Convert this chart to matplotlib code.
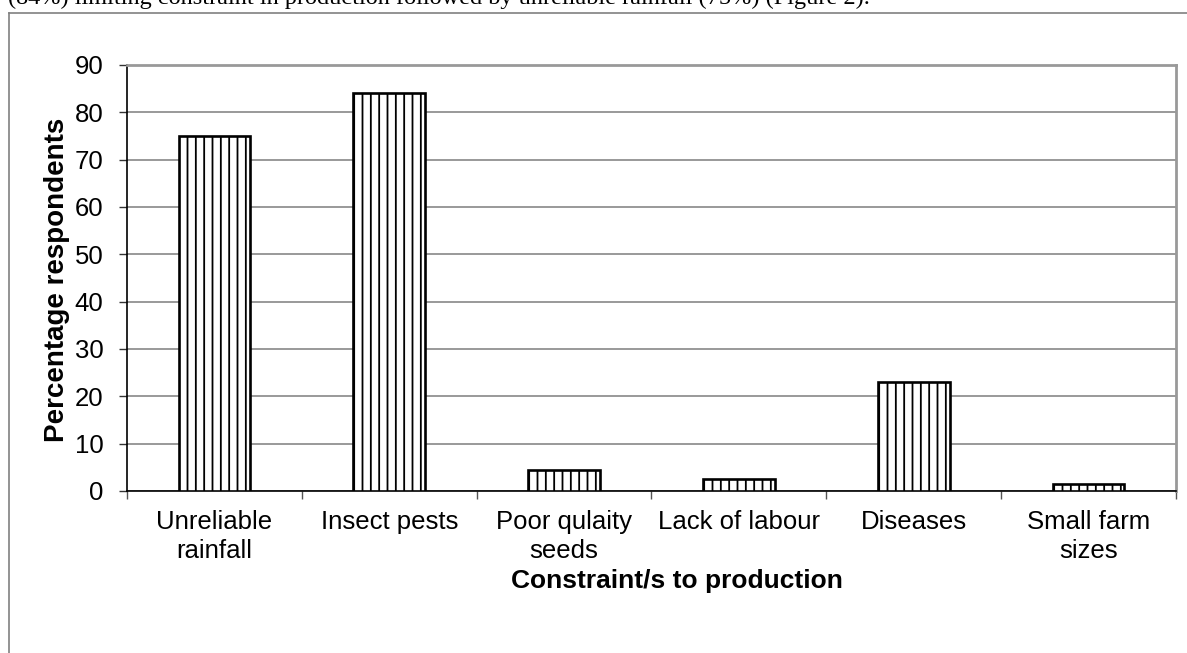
import matplotlib
matplotlib.use("Agg")
import matplotlib.pyplot as plt
from matplotlib.lines import Line2D
import numpy as np

categories = ["Unreliable\nrainfall", "Insect pests", "Poor qulaity\nseeds",
              "Lack of labour", "Diseases", "Small farm\nsizes"]
values = [75, 84, 4.5, 2.5, 23, 1.5]
yticks = [0, 10, 20, 30, 40, 50, 60, 70, 80, 90]

plt.rcParams['font.family'] = ['Liberation Sans', 'DejaVu Sans']
plt.rcParams['hatch.linewidth'] = 1.3
plt.rcParams['hatch.color'] = 'black'

W, H = 1187, 653
fig = plt.figure(figsize=(W / 100, H / 100), dpi=100)
ax = fig.add_axes([127 / W, 1 - 491 / H, (1176 - 127) / W, (491 - 65) / H])

x = np.arange(len(categories))
ax.bar(x, values, width=0.41, color='white', edgecolor='black',
       linewidth=1.9, hatch='||', zorder=3)

ax.set_xlim(-0.5, len(categories) - 0.5)
ax.set_ylim(0, 90)
ax.set_yticks(yticks)
ax.set_yticklabels([str(v) for v in yticks], fontsize=18.5)
ax.yaxis.grid(True, color='#888888', linewidth=1.2, zorder=0)
ax.set_axisbelow(True)

ax.set_xticks(x)
ax.set_xticklabels(categories, fontsize=18.5, linespacing=1.25)
ax.set_xticks(np.arange(-0.5, len(categories), 1.0), minor=True)
ax.tick_params(axis='x', which='major', length=0, pad=14)
ax.tick_params(axis='x', which='minor', length=6, width=1.0, color='#555555', direction='out')
ax.tick_params(axis='y', length=6, width=1.0, color='#333333', pad=11)

for s in ['top', 'right']:
    ax.spines[s].set_color('#999999')
    ax.spines[s].set_linewidth(2.0)
ax.spines['left'].set_color('black')
ax.spines['left'].set_linewidth(1.2)
ax.spines['bottom'].set_color('black')
ax.spines['bottom'].set_linewidth(1.2)

fig.text(57 / W, 1 - 280 / H, "Percentage respondents", rotation=90,
         ha='center', va='center', fontsize=20, fontweight='bold')
fig.text(677 / W, 1 - 581 / H, "Constraint/s to production",
         ha='center', va='center', fontsize=19, fontweight='bold')

# outer chart frame
fig.add_artist(Line2D([8.5 / W, 8.5 / W], [0, 1 - 13 / H], color='#808080',
                      linewidth=1.2, transform=fig.transFigure))
fig.add_artist(Line2D([8.5 / W, 1], [1 - 13 / H, 1 - 13 / H], color='#808080',
                      linewidth=1.2, transform=fig.transFigure))

# cut-off text from the surrounding document
fig.text(8 / W, 1 - 4 / H,
         "(84%) limiting constraint in production followed by unreliable rainfall (75%) (Figure 2).",
         ha='left', va='baseline', fontsize=17.5, family=['Liberation Serif', 'DejaVu Serif'])

fig.savefig("out.png", dpi=100)
